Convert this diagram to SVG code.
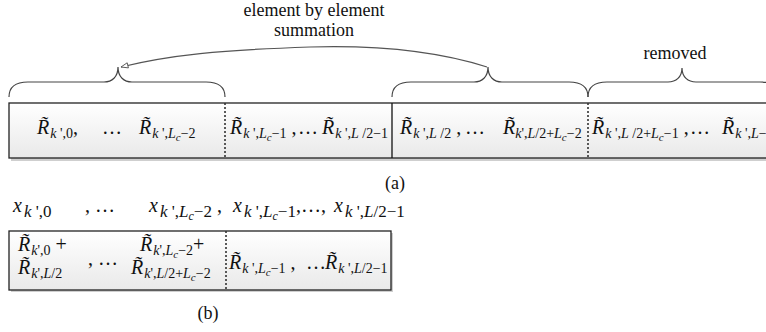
<svg xmlns="http://www.w3.org/2000/svg" width="766" height="332" viewBox="0 0 766 332" font-family="Liberation Serif, DejaVu Serif, serif">
<style>
.t{font-family:"Liberation Serif","DejaVu Serif",serif;font-size:18px;fill:#111}
.m{font-family:"Liberation Serif","DejaVu Serif",serif;font-size:20px;fill:#111}
.i{font-style:italic}
.s{font-size:14px}
.s2{font-size:17px}
.c{font-size:11px}
.c2{font-size:12px}
.box{fill:url(#g);stroke:#222;stroke-width:1.3}
.sh{fill:#cfcfcf}
.dot{stroke:#333;stroke-width:1.6;stroke-dasharray:2 2;fill:none}
.sol{stroke:#111;stroke-width:1.3;fill:none}
.br{fill:none;stroke:#444;stroke-width:1.2}
.ar{fill:none;stroke:#555;stroke-width:1.2}
</style>
<defs>
<linearGradient id="g" x1="0" y1="0" x2="0" y2="1">
<stop offset="0" stop-color="#ffffff"/>
<stop offset="1" stop-color="#e9e9e9"/>
</linearGradient>
<marker id="ah" viewBox="0 0 10 8" refX="9" refY="4" markerWidth="9" markerHeight="7" markerUnits="userSpaceOnUse" orient="auto">
<path d="M1,1 L9,4 L1,7 Z" fill="#fff" stroke="#555" stroke-width="1"/>
</marker>
</defs>

<g id="labels">
<text class="t" x="314" y="16" text-anchor="middle">element by element</text>
<text class="t" x="314" y="36" text-anchor="middle">summation</text>
<text class="t" x="675" y="59" text-anchor="middle">removed</text>
<text class="t" x="395" y="189" text-anchor="middle">(a)</text>
<text class="t" x="208" y="319" text-anchor="middle">(b)</text>
</g>

<g id="connectors">
<path class="br" d="M9,97 C9,88 14,82 28,82 H104 C112,82 118,77 118,67 C118,77 124,82 132,82 H206 C220,82 225,88 225,97"/>
<path class="br" d="M392,97 C392,88 397,82 411,82 H474 C482,82 488,77 488,67 C488,77 494,82 502,82 H569 C583,82 588,88 588,97"/>
<path class="br" d="M588,97 C588,88 593,82 607,82 H668 C676,82 682,77 682,68 C682,77 688,82 696,82 H760 C774,82 779,88 779,97"/>
<path class="ar" d="M487,67 C440,52 380,45 310,47 C220,50 170,55 121,67" marker-end="url(#ah)"/>
</g>

<g id="array-a">
<rect class="sh" x="11" y="105" width="760" height="56"/>
<rect class="box" x="9" y="103" width="762" height="55"/>
<line class="dot" x1="225" y1="103" x2="225" y2="158"/>
<line class="sol" x1="392" y1="103" x2="392" y2="158"/>
<line class="dot" x1="588" y1="103" x2="588" y2="158"/>

<text class="m" x="37" y="134"><tspan class="i">R&#x303;</tspan><tspan class="s" dx="1" dy="4"><tspan class="i">k</tspan> ',0</tspan><tspan dy="-4">,</tspan></text>
<text class="m" x="102" y="134">…</text>
<text class="m" x="139" y="134"><tspan class="i">R&#x303;</tspan><tspan class="s" dx="1" dy="4"><tspan class="i">k</tspan> ',<tspan class="i">L</tspan><tspan class="c i" dy="3">c</tspan><tspan dy="-3">−2</tspan></tspan></text>

<text class="m" x="230" y="134"><tspan class="i">R&#x303;</tspan><tspan class="s" dx="1" dy="4"><tspan class="i">k</tspan> ',<tspan class="i">L</tspan><tspan class="c i" dy="3">c</tspan><tspan dy="-3">−1</tspan></tspan><tspan dy="-4"> ,</tspan></text>
<text class="m" x="298" y="134">…</text>
<text class="m" x="322" y="134"><tspan class="i">R&#x303;</tspan><tspan class="s" dx="1" dy="4"><tspan class="i">k</tspan> ',<tspan class="i">L</tspan> /2−1</tspan></text>

<text class="m" x="400" y="134"><tspan class="i">R&#x303;</tspan><tspan class="s" dx="1" dy="4"><tspan class="i">k</tspan> ',<tspan class="i">L</tspan> /2</tspan><tspan dy="-4"> ,</tspan></text>
<text class="m" x="465" y="134">…</text>
<text class="m" x="503" y="134"><tspan class="i">R&#x303;</tspan><tspan class="s" dy="4"><tspan class="i">k</tspan>',<tspan class="i">L</tspan>/2+<tspan class="i">L</tspan><tspan class="c i" dy="3">c</tspan><tspan dy="-3">−2</tspan></tspan></text>

<text class="m" x="592" y="134"><tspan class="i">R&#x303;</tspan><tspan class="s" dx="1" dy="4"><tspan class="i">k</tspan> ',<tspan class="i">L</tspan> /2+<tspan class="i">L</tspan><tspan class="c i" dy="3">c</tspan><tspan dy="-3">−1</tspan></tspan><tspan dy="-4"> ,</tspan></text>
<text class="m" x="690" y="134">…</text>
<text class="m" x="722" y="134"><tspan class="i">R&#x303;</tspan><tspan class="s" dx="1" dy="4"><tspan class="i">k</tspan> ',<tspan class="i">L</tspan>−</tspan></text>
</g>

<g id="index-row">
<text class="m" x="13" y="212"><tspan class="i">x</tspan><tspan class="s2" dx="2" dy="5"><tspan class="i">k</tspan> ',0</tspan></text>
<text class="m" x="85" y="212">,  …</text>
<text class="m" x="149" y="212"><tspan class="i">x</tspan><tspan class="s2" dx="2" dy="5"><tspan class="i">k</tspan> ',<tspan class="i">L</tspan><tspan class="c2 i" dy="3">c</tspan><tspan dy="-3">−2</tspan></tspan><tspan dy="-5"> ,</tspan></text>
<text class="m" x="233" y="212"><tspan class="i">x</tspan><tspan class="s2" dx="2" dy="5"><tspan class="i">k</tspan> ',<tspan class="i">L</tspan><tspan class="c2 i" dy="3">c</tspan><tspan dy="-3">−1</tspan></tspan><tspan dy="-5">,…,</tspan></text>
<text class="m" x="334" y="212"><tspan class="i">x</tspan><tspan class="s2" dx="2" dy="5"><tspan class="i">k</tspan> ',<tspan class="i">L</tspan>/2−1</tspan></text>
</g>

<g id="array-b">
<rect class="sh" x="11" y="233" width="382" height="59"/>
<rect class="box" x="9" y="231" width="382" height="59"/>
<line class="dot" x1="226" y1="231" x2="226" y2="290"/>

<text class="m" x="18" y="251"><tspan class="i">R&#x303;</tspan><tspan class="s" dx="1" dy="4"><tspan class="i">k</tspan>',0</tspan><tspan dy="-4"> +</tspan></text>
<text class="m" x="18" y="274"><tspan class="i">R&#x303;</tspan><tspan class="s" dx="1" dy="4"><tspan class="i">k</tspan>',<tspan class="i">L</tspan>/2</tspan></text>
<text class="m" x="88" y="265">, …</text>
<text class="m" x="140" y="251"><tspan class="i">R&#x303;</tspan><tspan class="s" dx="1" dy="4"><tspan class="i">k</tspan>',<tspan class="i">L</tspan><tspan class="c i" dy="3">c</tspan><tspan dy="-3">−2</tspan></tspan><tspan dy="-4">+</tspan></text>
<text class="m" x="131" y="274"><tspan class="i">R&#x303;</tspan><tspan class="s" dx="1" dy="4"><tspan class="i">k</tspan>',<tspan class="i">L</tspan>/2+<tspan class="i">L</tspan><tspan class="c i" dy="3">c</tspan><tspan dy="-3">−2</tspan></tspan></text>

<text class="m" x="229" y="269"><tspan class="i">R&#x303;</tspan><tspan class="s" dx="1" dy="4"><tspan class="i">k</tspan> ',<tspan class="i">L</tspan><tspan class="c i" dy="3">c</tspan><tspan dy="-3">−1</tspan></tspan><tspan dy="-4"> ,</tspan></text>
<text class="m" x="306" y="269">…</text>
<text class="m" x="325" y="269"><tspan class="i">R&#x303;</tspan><tspan class="s" dx="1" dy="4"><tspan class="i">k</tspan> ',<tspan class="i">L</tspan>/2−1</tspan></text>
</g>
</svg>
